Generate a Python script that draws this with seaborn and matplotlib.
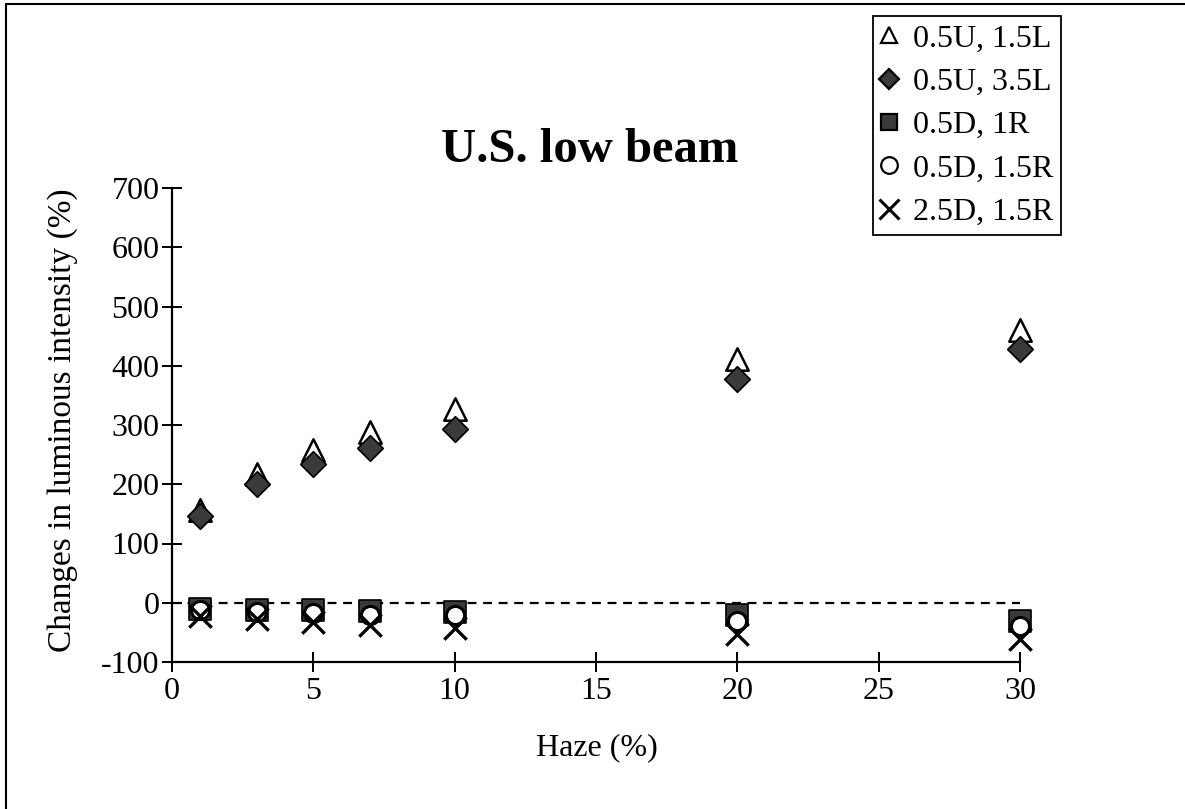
import matplotlib
matplotlib.use("Agg")
import matplotlib.pyplot as plt
from matplotlib.lines import Line2D
import seaborn as sns
import pandas as pd

# values
haze = [1, 3, 5, 7, 10, 20, 30]
u05_l15 = [156, 217, 257, 289, 327, 412, 460]
u05_l35 = [146, 201, 234, 262, 294, 377, 429]
d05_r1 = [-10, -12, -13, -14, -15, -21, -30]
d05_r15 = [-12, -15, -17, -20, -21, -30, -40]
d25_r15 = [-22, -28, -32, -38, -43, -52, -61]
labels = ["0.5U, 1.5L", "0.5U, 3.5L", "0.5D, 1R", "0.5D, 1.5R", "2.5D, 1.5R"]
x_ticks = [0, 5, 10, 15, 20, 25, 30]
y_ticks = [-100, 0, 100, 200, 300, 400, 500, 600, 700]

series = [u05_l15, u05_l35, d05_r1, d05_r15, d25_r15]
rows = []
for lab, vals in zip(labels, series):
    for h, v in zip(haze, vals):
        rows.append({"haze": h, "change": v, "point": lab})
df = pd.DataFrame(rows)

sns.set_theme(style="white")
plt.rcParams["font.family"] = ["Liberation Serif", "DejaVu Serif"]
plt.rcParams["axes.unicode_minus"] = False
plt.rcParams["text.color"] = "black"

# marker styles per series
styles = {
    "0.5U, 1.5L": dict(marker="^", s=260, facecolor="white", edgecolor="black", linewidth=1.8),
    "0.5U, 3.5L": dict(marker="D", s=170, facecolor="#3a3a3a", edgecolor="black", linewidth=1.2),
    "0.5D, 1R": dict(marker="s", s=260, facecolor="#3a3a3a", edgecolor="black", linewidth=1.2),
    "0.5D, 1.5R": dict(marker="o", s=170, facecolor="white", edgecolor="black", linewidth=2.2),
    "2.5D, 1.5R": dict(marker="x", s=260, color="black", linewidth=2.4),
}

fig = plt.figure(figsize=(11.85, 8.09), dpi=100)
ax = fig.add_axes([172 / 1185, 1 - 662 / 809, (1020 - 172) / 1185, (662 - 188) / 809])

for lab in labels:
    sub = df[df["point"] == lab]
    sns.scatterplot(data=sub, x="haze", y="change", ax=ax, legend=False,
                    zorder=3, clip_on=False, **styles[lab])

ax.axhline(0, color="black", ls=(0, (4, 3)), lw=1.6, zorder=2)

ax.set_xlim(0, 30)
ax.set_ylim(-100, 700)
ax.set_xticks(x_ticks)
ax.set_yticks(y_ticks)
ax.set_xlabel("")
ax.set_ylabel("")
for side in ["top", "right"]:
    ax.spines[side].set_visible(False)
for side in ["left", "bottom"]:
    ax.spines[side].set_color("black")
    ax.spines[side].set_linewidth(1.6)
ax.tick_params(axis="both", direction="inout", length=14, width=1.4,
               colors="black", labelsize=23, bottom=True, left=True)
ax.tick_params(axis="x", pad=4)
ax.tick_params(axis="y", pad=2)

fig.text(590 / 1185, 1 - 150 / 809, "U.S. low beam", ha="center", va="center",
         fontsize=35, fontweight="bold")
fig.text(597 / 1185, 1 - 748 / 809, "Haze (%)", ha="center", va="center", fontsize=23)
fig.text(63 / 1185, 1 - 420 / 809, "Changes in luminous intensity (%)", ha="center",
         va="center", rotation=90, fontsize=24)

handles = []
for lab in labels:
    st = styles[lab]
    if st["marker"] == "x":
        h = Line2D([], [], ls="", marker="x", color="black", markersize=14, mew=2.2)
    else:
        h = Line2D([], [], ls="", marker=st["marker"], markerfacecolor=st["facecolor"],
                   markeredgecolor="black", markersize=12 if st["marker"] != "D" else 10,
                   mew=1.6)
    handles.append(h)
leg = fig.legend(handles, labels, loc="upper left",
                 bbox_to_anchor=(873 / 1185, 1 - 16 / 809), fontsize=23,
                 frameon=True, fancybox=False, edgecolor="black", framealpha=1,
                 handlelength=0.5, handletextpad=0.5, labelspacing=0.44,
                 borderpad=0.25, borderaxespad=0)
leg.get_frame().set_linewidth(1.3)

# outer frame, visible only on the top and left edges
fig.add_artist(Line2D([6 / 1185, 1], [1 - 4 / 809, 1 - 4 / 809], color="black", lw=1.5))
fig.add_artist(Line2D([6 / 1185, 6 / 1185], [0, 1 - 4 / 809], color="black", lw=1.5))

fig.savefig("out.png", dpi=100, facecolor="white")
